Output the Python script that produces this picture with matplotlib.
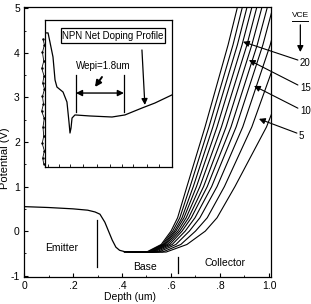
import matplotlib
matplotlib.use("Agg")
import matplotlib.pyplot as plt
from matplotlib.patches import Rectangle

plt.rcParams['font.family'] = ['Liberation Sans', 'DejaVu Sans']

# emitter / base common part of the potential
emit_x = [0.0, 0.10, 0.20, 0.26, 0.29, 0.31, 0.33, 0.345, 0.36, 0.375, 0.39, 0.41, 0.50]
emit_v = [0.55, 0.53, 0.50, 0.47, 0.43, 0.38, 0.20, 0.0, -0.20, -0.36, -0.43, -0.46, -0.47]

# collector-side curves for the VCE sweep (potential levels, depth per curve)
fan_v = [-0.47, -0.30, 0.0, 0.30, 1.0, 2.34, 4.18, 5.0]
fan_x = [
    [0.500, 0.560, 0.600, 0.627, 0.665, 0.739, 0.833, 0.870],
    [0.505, 0.565, 0.607, 0.636, 0.678, 0.755, 0.853, 0.890],
    [0.510, 0.570, 0.614, 0.645, 0.691, 0.771, 0.871, 0.909],
    [0.515, 0.575, 0.620, 0.653, 0.704, 0.788, 0.890, 0.929],
    [0.520, 0.580, 0.628, 0.662, 0.718, 0.806, 0.910, 0.949],
    [0.525, 0.587, 0.636, 0.672, 0.733, 0.825, 0.930, 0.970],
    [0.530, 0.595, 0.645, 0.683, 0.748, 0.845, 0.952, 0.992],
    [0.540, 0.605, 0.658, 0.698, 0.766, 0.866, 0.975, 1.015],
    [0.550, 0.620, 0.675, 0.718, 0.788, 0.893, 1.005, 1.045],
    [0.565, 0.640, 0.700, 0.748, 0.818, 0.930, 1.050, 1.100],
    [0.580, 0.665, 0.740, 0.788, 0.861, 0.990, 1.120, 1.180],
]

vce_labels = ['20', '15', '10', '5']
vce_heads = [(0.894, 4.25), (0.918, 3.84), (0.939, 3.26), (0.959, 2.52)]
vce_tails = [(1.118, 3.84), (1.118, 3.28), (1.118, 2.76), (1.114, 2.20)]

# inset: doping profile in inset fraction coords
dop_x = [0.0, 0.024, 0.039, 0.063, 0.079, 0.094, 0.142, 0.173, 0.189, 0.197, 0.205,
         0.213, 0.236, 0.354, 0.528, 0.630, 0.764, 0.866, 1.0]
dop_y = [0.912, 0.912, 0.850, 0.748, 0.592, 0.544, 0.510, 0.442, 0.306, 0.231, 0.265,
         0.333, 0.354, 0.347, 0.340, 0.354, 0.401, 0.435, 0.490]
# measured points along the left edge of the inset
meas_x = [-0.015, -0.005, -0.02, -0.01, -0.025, -0.008, -0.018, -0.004, -0.02, -0.012,
          -0.026, -0.006, -0.016, -0.01, -0.022, -0.005, -0.018, -0.01]
meas_y = [0.87, 0.83, 0.78, 0.72, 0.67, 0.62, 0.57, 0.53, 0.48, 0.43, 0.38, 0.33,
          0.27, 0.21, 0.16, 0.11, 0.06, 0.02]

fig = plt.figure(figsize=(3.11, 3.04), dpi=100)
ax = fig.add_axes([0.0772, 0.0888, 0.794, 0.888])

ax.plot(emit_x, emit_v, color='black', lw=0.9)
for xs in fan_x:
    ax.plot([emit_x[-2]] + xs, [emit_v[-2]] + fan_v, color='black', lw=0.8)

ax.set_xlim(0, 1.008)
ax.set_ylim(-1.03, 5.03)
ax.set_xticks([0, 0.2, 0.4, 0.6, 0.8, 1.0])
ax.set_xticklabels(['0', '.2', '.4', '.6', '.8', '1.0'])
ax.set_yticks([-1, 0, 1, 2, 3, 4, 5])
ax.set_yticklabels(['-1', '0', '1', '2', '3', '4', '5'])
ax.set_xticks([0.1, 0.3, 0.5, 0.7, 0.9], minor=True)
ax.set_yticks([-0.5, 0.5, 1.5, 2.5, 3.5, 4.5], minor=True)
ax.tick_params(direction='in', length=3, width=0.8, labelsize=7.5, pad=3)
ax.tick_params(which='minor', direction='in', length=1.5, width=0.6)
for s in ax.spines.values():
    s.set_linewidth(0.9)

ax.set_xlabel('Depth (um)', fontsize=7.5, labelpad=2)
ax.xaxis.set_label_coords(0.43, -0.055)
ax.set_ylabel('Potential (V)', fontsize=8, labelpad=1)
ax.yaxis.set_label_coords(-0.058, 0.44)

# region labels and dividers
ax.text(0.155, -0.38, 'Emitter', fontsize=7.5, ha='center', va='center')
ax.text(0.494, -0.81, 'Base', fontsize=7.5, ha='center', va='center')
ax.text(0.82, -0.72, 'Collector', fontsize=7.5, ha='center', va='center')
ax.plot([0.298, 0.298], [0.25, -0.81], color='black', lw=0.9)
ax.plot([0.629, 0.629], [-0.58, -0.94], color='black', lw=0.9)

# VCE labels with arrows
for lab, head, tail in zip(vce_labels, vce_heads, vce_tails):
    ax.annotate('', xy=head, xytext=tail, annotation_clip=False,
                arrowprops=dict(arrowstyle='-|>', color='black', lw=0.8,
                                mutation_scale=9, shrinkA=0, shrinkB=0))
    ax.text(tail[0] + 0.008, tail[1] - 0.06, lab, fontsize=7, ha='left', va='center',
            clip_on=False)
ax.text(1.094, 4.83, 'VCE', fontsize=6, ha='left', va='center', clip_on=False)
ax.plot([1.094, 1.16], [4.72, 4.72], color='black', lw=0.7, clip_on=False)
ax.annotate('', xy=(1.128, 4.02), xytext=(1.128, 4.63), annotation_clip=False,
            arrowprops=dict(arrowstyle='-|>', color='black', lw=0.9,
                            mutation_scale=9, shrinkA=0, shrinkB=0))

# inset with doping profile
ins = fig.add_axes([0.1447, 0.4507, 0.408, 0.4836])
ins.plot(dop_x, dop_y, color='black', lw=0.9)
ins.plot(meas_x, meas_y, color='black', lw=0.6, marker='.', ms=1.5, clip_on=False)
ins.set_xlim(0, 1)
ins.set_ylim(0, 1)
ins.set_xticks([0.02, 0.11, 0.2, 0.3, 0.41, 0.51, 0.61, 0.69, 0.8, 0.9])
ins.set_xticklabels([])
ins.set_yticks([])
ins.tick_params(direction='in', length=2, width=0.6)
for s in ins.spines.values():
    s.set_linewidth(0.9)

ins.add_patch(Rectangle((0.126, 0.84), 0.82, 0.106, fill=False, lw=0.9,
                        edgecolor='black'))
ins.text(0.535, 0.893, 'NPN Net Doping Profile', fontsize=7, ha='center', va='center')
ins.text(0.457, 0.687, 'Wepi=1.8um', fontsize=7, ha='center', va='center')
ins.plot([0.244, 0.244], [0.374, 0.626], color='black', lw=0.9)
ins.plot([0.622, 0.622], [0.374, 0.626], color='black', lw=0.9)
ins.annotate('', xy=(0.244, 0.503), xytext=(0.622, 0.503),
             arrowprops=dict(arrowstyle='<|-|>', color='black', lw=1.0,
                             mutation_scale=9, shrinkA=0, shrinkB=0))
ins.annotate('', xy=(0.394, 0.544), xytext=(0.449, 0.612),
             arrowprops=dict(arrowstyle='-|>', color='black', lw=1.4,
                             mutation_scale=9, shrinkA=0, shrinkB=0))
ins.annotate('', xy=(0.787, 0.422), xytext=(0.764, 0.796),
             arrowprops=dict(arrowstyle='-|>', color='black', lw=0.9,
                             mutation_scale=9, shrinkA=0, shrinkB=0))

fig.savefig('out.png', dpi=100)
